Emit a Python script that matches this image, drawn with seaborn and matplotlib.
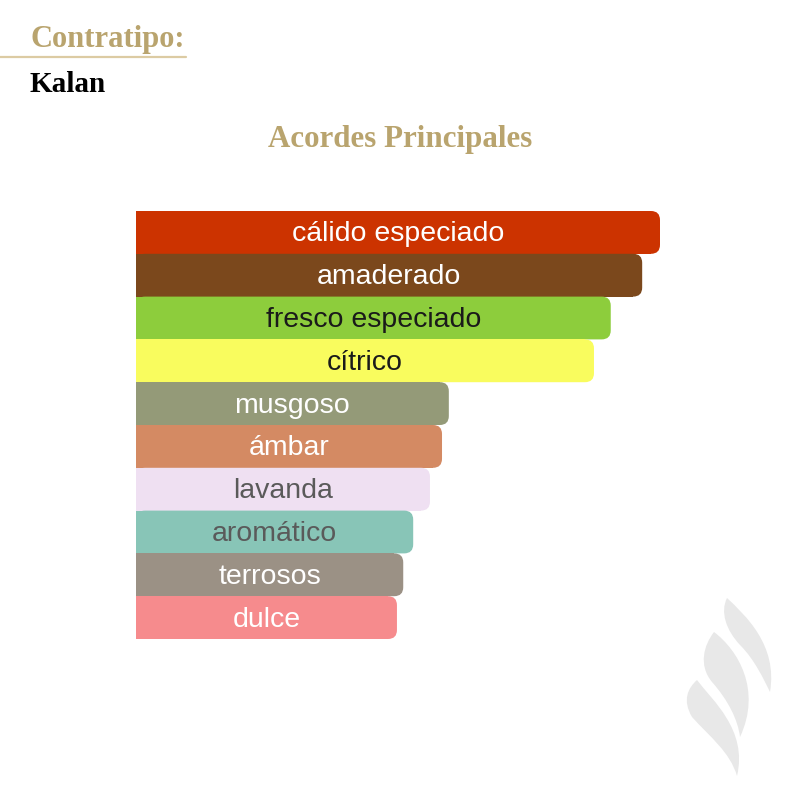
import matplotlib.pyplot as plt
import seaborn as sns
import pandas as pd
from matplotlib.patches import FancyBboxPatch, Rectangle, PathPatch
from matplotlib.path import Path
from matplotlib.transforms import Affine2D

# datos de los acordes (ancho relativo de cada barra, %)
acordes = ['cálido especiado', 'amaderado', 'fresco especiado', 'cítrico', 'musgoso',
           'ámbar', 'lavanda', 'aromático', 'terrosos', 'dulce']
valores = [100, 96.6, 90.6, 87.4, 59.7, 58.4, 56.1, 52.9, 51.0, 49.8]
colores = ['#CC3300', '#7B481C', '#8DCD3C', '#F9FC5E', '#949A78',
           '#D48A63', '#EFE0F2', '#88C5B7', '#9B9185', '#F68B8D']
color_texto = ['white', 'white', '#1a1a1a', '#1a1a1a', 'white',
               'white', '#5a5a5a', '#5a5a5a', 'white', 'white']

oro = '#B9A46E'
df = pd.DataFrame({'acorde': acordes, 'valor': valores})

sns.set_style('white')
fig = plt.figure(figsize=(8, 8), dpi=100)
fig.patch.set_facecolor('white')

# ejes en pixeles: izquierda 136, derecha 660, arriba 211, abajo 639
ax = fig.add_axes([136 / 800, 1 - 639 / 800, 524 / 800, 428 / 800])
sns.barplot(data=df, y='acorde', x='valor', hue='acorde', palette=dict(zip(acordes, colores)),
            legend=False, width=1.0, orient='h', ax=ax, saturation=1)
ax.set_xlim(0, max(valores))
ax.set_ylim(len(acordes) - 0.5, -0.5)
ax.axis('off')

# esquinas redondeadas a la derecha
px_x = max(valores) / 524
px_y = len(acordes) / 428
r = 9 * px_x
asp = px_y / px_x
for patch, col in zip(ax.patches[:], colores):
    x, y = patch.get_x(), patch.get_y()
    w, h = patch.get_width(), patch.get_height()
    patch.set_visible(False)
    ax.add_patch(FancyBboxPatch((x, y), w, h, boxstyle=f'round,pad=0,rounding_size={r}',
                                mutation_aspect=asp, fc=col, ec='none'))
    ax.add_patch(Rectangle((x, y), w - r, h, fc=col, ec='none', antialiased=False))

for i, (lab, v, tc) in enumerate(zip(acordes, valores, color_texto)):
    ax.text(v / 2, i + 2 * px_y, lab, ha='center', va='center', color=tc, fontsize=20.5,
            family='Liberation Sans')

# encabezado
fig.text(30 / 800, 1 - 40 / 800, 'Contratipo:', color=oro, fontsize=22, fontweight='bold',
         family='Liberation Serif', va='center', ha='left')
fig.add_artist(plt.Line2D([0, 186 / 800], [1 - 57 / 800, 1 - 57 / 800], color='#DCCBA3', lw=1.6))
fig.text(30 / 800, 1 - 85 / 800, 'Kalan', color='black', fontsize=21, fontweight='bold',
         family='Liberation Serif', va='center', ha='left')
fig.text(400 / 800, 1 - 139 / 800, 'Acordes Principales', color=oro, fontsize=22.3,
         fontweight='bold', family='Liberation Serif', va='center', ha='center')

# marca de agua (trazos en pixeles)
tr = Affine2D().scale(1 / 800, -1 / 800).translate(0, 1) + fig.transFigure
C = Path.CURVE4
trazos = [
    [(727, 598), (745, 615), (778, 645), (770, 692),
     (764, 680), (755, 660), (740, 645), (726, 630), (720, 612), (727, 598)],
    [(714, 632), (738, 650), (762, 690), (740, 737),
     (738, 720), (728, 700), (712, 682), (698, 665), (704, 645), (714, 632)],
    [(697, 680), (712, 700), (748, 730), (737, 776),
     (730, 752), (710, 737), (692, 717), (682, 700), (688, 688), (697, 680)],
]
for pts in trazos:
    codes = [Path.MOVETO] + [C] * 9
    pp = PathPatch(Path(pts, codes), transform=tr, fc='#E8E8E8', ec='none')
    fig.add_artist(pp)

fig.savefig('out.png', dpi=100, facecolor='white')
